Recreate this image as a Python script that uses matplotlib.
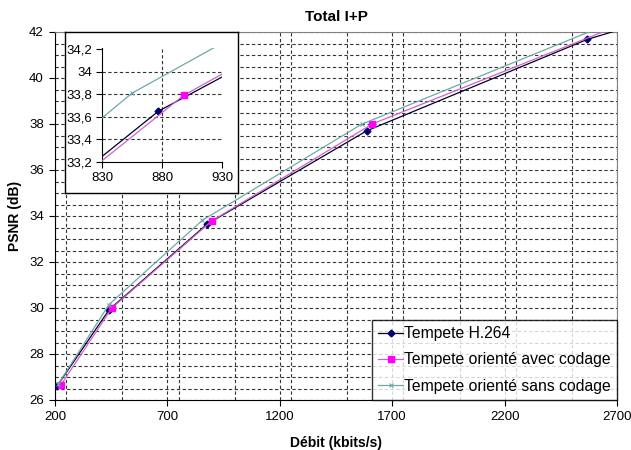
import matplotlib
matplotlib.use("Agg")
import matplotlib.pyplot as plt
from matplotlib.ticker import MultipleLocator, FuncFormatter

plt.rcParams['font.family'] = ['Liberation Sans', 'DejaVu Sans']

# Data
debit_h264 = [210, 441, 877, 1586, 2568, 2780]
psnr_h264 = [26.62, 29.93, 33.65, 37.70, 41.68, 42.30]

debit_avec = [225, 453, 898, 1611, 2700]
psnr_avec = [26.64, 30.00, 33.79, 38.00, 42.25]

debit_sans = [215, 440, 855, 1564, 2650]
psnr_sans = [26.70, 30.15, 33.81, 37.99, 42.30]

labels = ["Tempete H.264", "Tempete orienté avec codage", "Tempete orienté sans codage"]
x_ticks = [200, 700, 1200, 1700, 2200, 2700]
y_ticks = [26, 28, 30, 32, 34, 36, 38, 40, 42]
inset_x_ticks = [830, 880, 930]
inset_y_ticks = [33.2, 33.4, 33.6, 33.8, 34.0, 34.2]

W, H = 631, 450
fig = plt.figure(figsize=(W / 100, H / 100), dpi=100)
fig.patch.set_facecolor('white')

def fbox(l, t, r, b):
    return [l / W, 1 - b / H, (r - l) / W, (b - t) / H]

ax = fig.add_axes(fbox(55, 32, 617, 400))

grid_style = dict(color='#333333', linestyle=(0, (3, 2.2)), linewidth=0.8)

series = [
    (debit_h264, psnr_h264, dict(color='#000022', marker='D', markersize=3.5,
                                 markerfacecolor='#000070', markeredgecolor='#000070')),
    (debit_avec, psnr_avec, dict(color='#d060d0', marker='s', markersize=4.5,
                                 markerfacecolor='#ff00ff', markeredgecolor='#ff00ff')),
    (debit_sans, psnr_sans, dict(color='#6fa8a8', marker='x', markersize=3.5,
                                 markeredgecolor='#6fa8a8', markeredgewidth=0.8)),
]

def draw(a, lw):
    hs = []
    for (xs, ys, st), lab in zip(series, labels):
        h, = a.plot(xs, ys, linewidth=lw, label=lab, clip_on=True, zorder=3, **st)
        hs.append(h)
    return hs

handles = draw(ax, 0.9)

ax.set_xlim(200, 2700)
ax.set_ylim(26, 42)
ax.xaxis.set_minor_locator(MultipleLocator(250))
ax.yaxis.set_minor_locator(MultipleLocator(0.5))
ax.set_xticks(x_ticks)
ax.set_yticks(y_ticks)
ax.grid(True, which='both', **grid_style)
ax.set_axisbelow(True)
ax.tick_params(which='minor', length=0)
ax.tick_params(which='major', direction='out', length=4, width=0.8, labelsize=9.5,
               colors='black', pad=4)
for s in ['top', 'right']:
    ax.spines[s].set_color('#808080')
for s in ['left', 'bottom']:
    ax.spines[s].set_color('black')

ax.set_title("Total I+P", fontsize=11, fontweight='bold', pad=8)
ax.set_xlabel("Débit (kbits/s)", fontsize=10, fontweight='bold', labelpad=9)
ax.set_ylabel("PSNR (dB)", fontsize=10, fontweight='bold', labelpad=5)

leg = ax.legend(handles=handles, loc='lower right', bbox_to_anchor=(1.0, 0.0),
                borderaxespad=0, fontsize=11.3, frameon=True, fancybox=False,
                handlelength=1.6, handletextpad=0.05, labelspacing=0.72,
                borderpad=0.4)
leg.get_frame().set_edgecolor('black')
leg.get_frame().set_linewidth(1.0)
leg.set_zorder(10)

# Inset outer box
box = fig.add_axes(fbox(65, 32, 238, 193))
box.set_facecolor('white')
box.set_xticks([])
box.set_yticks([])
for s in box.spines.values():
    s.set_color('black')
    s.set_linewidth(1.0)
box.set_zorder(5)

ins = fig.add_axes(fbox(102, 48, 222, 162))
ins.set_zorder(6)
ins.set_facecolor('white')
draw(ins, 0.9)
ins.set_xlim(830, 930)
ins.set_ylim(33.2, 34.21)
ins.set_xticks(inset_x_ticks)
ins.set_yticks(inset_y_ticks)
ins.yaxis.set_major_formatter(FuncFormatter(lambda v, p: ("%g" % round(v, 1)).replace('.', ',')))
for yv in inset_y_ticks[1:-1]:
    ins.axhline(yv, zorder=1, **grid_style)
ins.axvline(880, zorder=1, **grid_style)
for s in ['top', 'right']:
    ins.spines[s].set_visible(False)
ins.tick_params(direction='out', length=4, width=0.8, labelsize=9.5, pad=3)

fig.savefig("out.png", dpi=100, facecolor='white')
